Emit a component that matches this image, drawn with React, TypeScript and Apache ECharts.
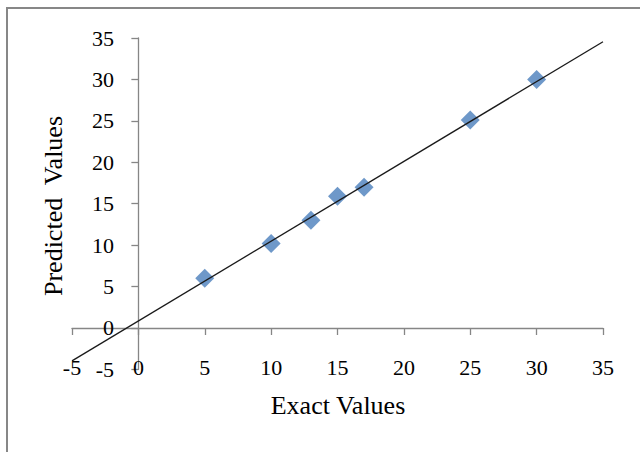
import React, { useEffect, useRef } from "react";
import * as echarts from "echarts";

const exactValues = [5, 10, 13, 15, 17, 25, 30];
const predictedValues = [6, 10.2, 13, 15.9, 17, 25.1, 30];
const fitLineX = [-5, 35];
const fitLineY = [-3.97, 34.55];
const axisMin = -5;
const axisMax = 35;
const axisStep = 5;
const xTitle = "Exact Values";
const yTitle = "Predicted  Values";

const FONT = "'Liberation Serif', 'Times New Roman', serif";

export default function App() {
  const ref = useRef<HTMLDivElement>(null);
  useEffect(() => {
    if (!ref.current) return;
    const chart = echarts.init(ref.current, undefined, { renderer: "svg" });
    const axisColor = "#868686";
    chart.setOption({
      animation: false,
      backgroundColor: "#ffffff",
      grid: { left: 72, right: 37, top: 38, bottom: 82.6, containLabel: false },
      xAxis: {
        type: "value",
        min: axisMin,
        max: axisMax,
        interval: axisStep,
        axisLine: { show: true, onZero: true, lineStyle: { color: axisColor, width: 1.3 } },
        axisTick: { show: true, length: 7, lineStyle: { color: axisColor, width: 1.3 } },
        axisLabel: {
          margin: -13,
          color: "#000",
          fontFamily: FONT,
          fontSize: 22,
          showMinLabel: true,
          showMaxLabel: true,
        },
        splitLine: { show: false },
      },
      yAxis: {
        type: "value",
        min: axisMin,
        max: axisMax,
        interval: axisStep,
        axisLine: { show: true, onZero: true, lineStyle: { color: axisColor, width: 1.3 } },
        axisTick: { show: true, length: 7, lineStyle: { color: axisColor, width: 1.3 } },
        axisLabel: {
          margin: -42,
          color: "#000",
          fontFamily: FONT,
          fontSize: 22,
          showMinLabel: true,
          showMaxLabel: true,
        },
        splitLine: { show: false },
      },
      series: [
        {
          type: "scatter",
          data: exactValues.map((x, i) => [x, predictedValues[i]]),
          symbol: "diamond",
          symbolSize: 19,
          itemStyle: { color: "#4A7EBB" },
          z: 2,
        },
        {
          type: "line",
          data: fitLineX.map((x, i) => [x, fitLineY[i]]),
          symbol: "none",
          lineStyle: { color: "#1a1a1a", width: 1.3 },
          z: 3,
        },
      ],
      graphic: [
        {
          type: "rect",
          shape: { x: 7, y: 8, width: 700, height: 500 },
          style: { fill: "none", stroke: "#878787", lineWidth: 2 },
          silent: true,
        },
        {
          type: "text",
          x: 338,
          y: 405,
          style: {
            text: xTitle,
            font: `26px ${FONT}`,
            fill: "#000",
            textAlign: "center",
            textVerticalAlign: "middle",
          },
        },
        {
          type: "text",
          x: 53,
          y: 206,
          rotation: Math.PI / 2,
          style: {
            text: yTitle,
            font: `26px ${FONT}`,
            fill: "#000",
            textAlign: "center",
            textVerticalAlign: "middle",
          },
        },
      ],
    });
    return () => chart.dispose();
  }, []);
  return (
    <div
      ref={ref}
      style={{ position: "absolute", left: 0, top: 0, width: 640, height: 452 }}
    />
  );
}
